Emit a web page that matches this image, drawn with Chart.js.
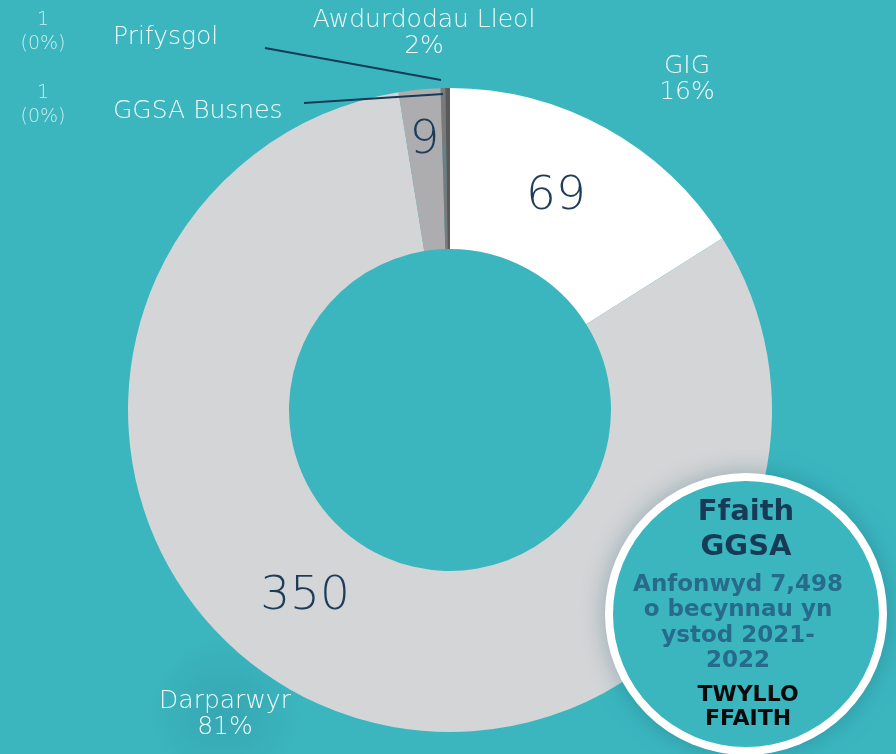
<!DOCTYPE html>
<html>
<head>
<meta charset="utf-8">
<script src="https://cdn.jsdelivr.net/npm/chart.js@4/dist/chart.umd.min.js"></script>
<style>
  html, body { margin: 0; padding: 0; background: #3bb6bf; }
  #wrap { width: 896px; height: 754px; position: relative; overflow: hidden; }
</style>
</head>
<body>
<div id="wrap"><canvas id="grafig" width="896" height="754"></canvas></div>
<script>
const categories = ['GIG', 'Darparwyr', 'Awdurdodau Lleol', 'Prifysgol', 'GGSA Busnes'];
const values = [69, 350, 9, 1, 1];
const sliceColors = ['#ffffff', '#d4d5d7', '#adadaf', '#7a7a7b', '#5a5a5c'];
const factLines = ['Ffaith', 'GGSA'];
const factBody = ['Anfonwyd 7,498', 'o becynnau yn', 'ystod 2021-', '2022'];
const factFooter = ['TWYLLO', 'FFAITH'];

const total = values.reduce((a, b) => a + b, 0);
const pct = values.map(v => Math.round(v / total * 100) + '%');

const LIGHT = '200 25px "DejaVu Sans", sans-serif';
const BOLD = '"DejaVu Sans", sans-serif';
const TEXT_DARK = '#1e3c5a';

// little helper for multi-line centred text
function lines(ctx, arr, x, y, lh) {
    arr.forEach((t, i) => ctx.fillText(t, x, y + i * lh));
}

const decor = {
    id: 'decor',
    beforeDraw(chart) {
        const ctx = chart.ctx;
        ctx.save();
        ctx.fillStyle = '#3bb6bf';
        ctx.fillRect(0, 0, chart.width, chart.height);
        // soft darker blob behind Darparwyr
        const g = ctx.createRadialGradient(225, 712, 10, 225, 712, 80);
        g.addColorStop(0, 'rgba(40,120,140,0.22)');
        g.addColorStop(1, 'rgba(40,120,140,0)');
        ctx.fillStyle = g;
        ctx.fillRect(130, 620, 200, 134);
        ctx.restore();
    },
    afterDraw(chart) {
        const ctx = chart.ctx;
        const arcs = chart.getDatasetMeta(0).data;
        ctx.save();

        // values inside the ring
        ctx.fillStyle = TEXT_DARK;
        ctx.textAlign = 'center';
        ctx.textBaseline = 'middle';
        ctx.font = '200 47px "DejaVu Sans", sans-serif';
        const shift = [-2.5 * Math.PI / 180, 13.5 * Math.PI / 180, 0];
        const radFrac = [0.48, 0.47, 0.68];
        [0, 1, 2].forEach(i => {
            const a = arcs[i];
            const mid = (a.startAngle + a.endAngle) / 2 + shift[i];
            const r = a.innerRadius + radFrac[i] * (a.outerRadius - a.innerRadius);
            ctx.fillText(String(values[i]), a.x + Math.cos(mid) * r, a.y + Math.sin(mid) * r);
        });

        // outside labels
        ctx.fillStyle = '#f2fbfb';
        ctx.font = LIGHT;
        lines(ctx, [categories[0], pct[0]], 687, 66, 26);
        lines(ctx, [categories[2], pct[2]], 424, 20, 26);
        lines(ctx, [categories[1], pct[1]], 225, 701, 26);
        ctx.textAlign = 'left';
        ctx.fillText(categories[3], 113, 37);
        ctx.fillText(categories[4], 113, 111);

        ctx.textAlign = 'center';
        ctx.fillStyle = 'rgba(235,250,250,0.8)';
        ctx.font = '200 19px "DejaVu Sans", sans-serif';
        lines(ctx, [String(values[3]), '(' + pct[3] + ')'], 43, 20, 24);
        lines(ctx, [String(values[4]), '(' + pct[4] + ')'], 43, 93, 24);

        // leader lines
        ctx.strokeStyle = '#173a56';
        ctx.lineWidth = 2;
        ctx.beginPath();
        ctx.moveTo(265, 48); ctx.lineTo(441, 80);
        ctx.moveTo(304, 103); ctx.lineTo(443, 94);
        ctx.stroke();

        // fact bubble
        const cx = 746, cy = 614, R = 141;
        ctx.shadowColor = 'rgba(20,90,110,0.35)';
        ctx.shadowBlur = 24;
        ctx.beginPath();
        ctx.arc(cx, cy, R, 0, Math.PI * 2);
        ctx.fillStyle = '#ffffff';
        ctx.fill();
        ctx.shadowBlur = 0;
        ctx.beginPath();
        ctx.arc(cx, cy, R - 8, 0, Math.PI * 2);
        ctx.fillStyle = '#3bb6bf';
        ctx.fill();

        ctx.fillStyle = '#173a56';
        ctx.font = 'bold 29px ' + BOLD;
        lines(ctx, factLines, cx, 512, 35);
        ctx.fillStyle = '#276b8c';
        ctx.font = 'bold 23px ' + BOLD;
        lines(ctx, factBody, cx - 8, 585, 25.5);
        ctx.fillStyle = '#0a0a0a';
        ctx.font = 'bold 22px ' + BOLD;
        lines(ctx, factFooter, cx + 2, 695, 24);

        ctx.restore();
    }
};

const ctx = document.getElementById('grafig').getContext('2d');
const chart = new Chart(ctx, {
    type: 'doughnut',
    data: {
        labels: categories,
        datasets: [{
            data: values,
            backgroundColor: sliceColors,
            borderWidth: 0
        }]
    },
    options: {
        responsive: false,
        animation: false,
        cutout: '50%',
        layout: {
            padding: { left: 128, right: 124, top: 88, bottom: 22 }
        },
        plugins: {
            legend: { display: false },
            tooltip: { enabled: false }
        }
    },
    plugins: [decor]
});
</script>
</body>
</html>
